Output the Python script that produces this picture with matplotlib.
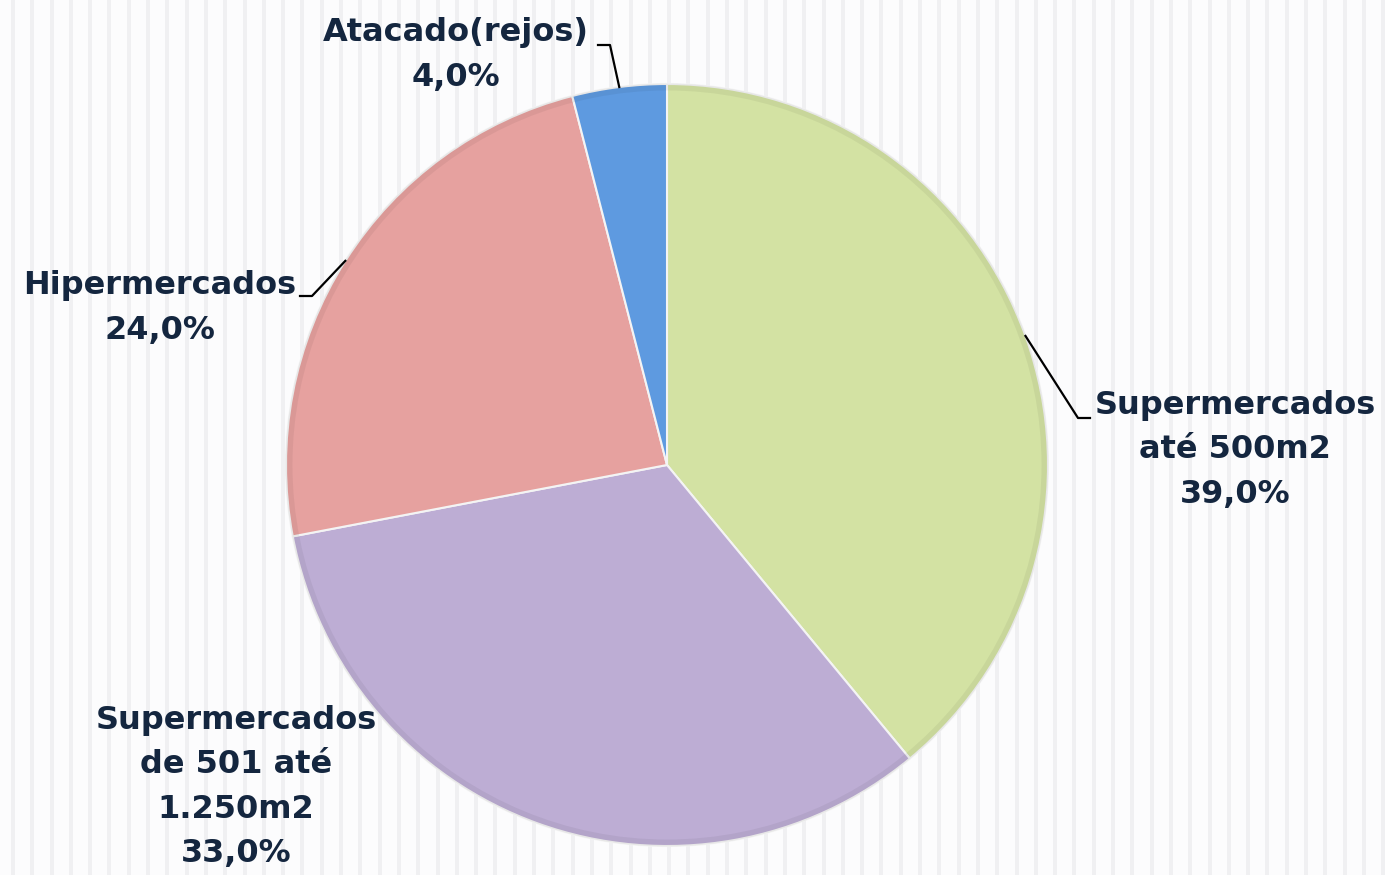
import numpy as np
import matplotlib
matplotlib.use("Agg")
import matplotlib.pyplot as plt

# data (clockwise from 12 o'clock)
labels = ["Supermercados\naté 500m2", "Supermercados\nde 501 até\n1.250m2",
          "Hipermercados", "Atacado(rejos)"]
shares = [39.0, 33.0, 24.0, 4.0]
colors = ["#d3e2a3", "#bdadd4", "#e6a19f", "#5e9ae0"]

W, H = 1385, 875
text_color = "#14263f"

fig = plt.figure(figsize=(W / 100, H / 100), dpi=100)
fig.patch.set_facecolor("#fcfcfd")
ax = fig.add_axes([0, 0, 1, 1])

# striped background
for x in np.arange(13, W, 19.3):
    ax.axvspan(x - 2, x + 2, color="#f0f0f2", lw=0, zorder=0)

center = (667, H - 465)
radius = 381
wedges, _ = ax.pie(shares, colors=colors, startangle=90, counterclock=False,
                   center=center, radius=radius, frame=True,
                   wedgeprops=dict(edgecolor="#f4f4f4", linewidth=1.5))
for w in wedges:
    w.set_zorder(2)
# subtle bevel on the rim
ring = plt.Circle(center, radius - 3, fill=False, ec="#000000", lw=5, alpha=0.05, zorder=3)
ax.add_patch(ring)
ax.set_xlim(0, W)
ax.set_ylim(0, H)
ax.set_aspect("equal")
ax.axis("off")

font = dict(family=["DejaVu Sans"], fontweight="bold", fontsize=23,
            color=text_color, linespacing=1.55, ha="center", va="center", zorder=5)


def edge_point(w):
    ang = np.deg2rad((w.theta1 + w.theta2) / 2)
    return center[0] + radius * np.cos(ang), center[1] + radius * np.sin(ang)


# label text positions and leader bends
txt = {
    0: (1235, H - 450, [(1078, H - 418), (1090, H - 418)]),
    1: (236, H - 787, None),
    2: (160, H - 308, [(312, H - 296), (300, H - 296)]),
    3: (456, H - 55, [(610, H - 45), (598, H - 45)]),
}
for i, w in enumerate(wedges):
    tx, ty, leader = txt[i]
    s = labels[i] + "\n" + f"{shares[i]:.1f}".replace(".", ",") + "%"
    ax.text(tx, ty, s, **font)
    if leader:
        ex, ey = edge_point(w)
        xs = [ex] + [p[0] for p in leader]
        ys = [ey] + [p[1] for p in leader]
        ax.plot(xs, ys, color="black", lw=1.6, zorder=4)

fig.savefig("out.png", dpi=100, facecolor=fig.get_facecolor())
